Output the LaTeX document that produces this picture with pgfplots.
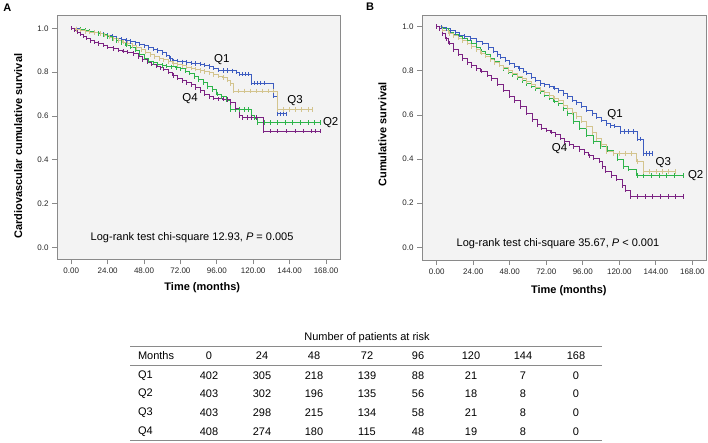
\documentclass[border=0pt]{standalone}
\usepackage{pgfplots}
\pgfplotsset{compat=1.18}
\usepackage{pgfplotstable}
\usepackage{fontspec}
\setmainfont{Liberation Sans}

\definecolor{cQone}{HTML}{3D5CC0}
\definecolor{cQtwo}{HTML}{2DB44A}
\definecolor{cQthree}{HTML}{D3C48E}
\definecolor{cQfour}{HTML}{7B2282}
\definecolor{framec}{HTML}{8A8A8A}
\definecolor{bgc}{HTML}{F3F3F3}

% ---------------- Panel A data ----------------
\pgfplotstableread{
x y
0 1.000
3 0.998
6 0.992
9 0.988
12 0.984
15 0.979
18 0.975
21 0.971
24 0.967
27 0.962
30 0.956
33 0.950
36 0.944
39 0.939
42 0.934
45 0.928
48 0.920
51 0.912
54 0.905
57 0.898
60 0.890
63 0.877
65 0.862
67 0.852
70 0.850
73 0.847
76 0.844
79 0.841
82 0.839
85 0.837
88 0.832
91 0.826
94 0.818
97 0.810
100 0.808
103 0.807
106 0.806
109 0.800
111 0.790
113 0.790
115 0.790
117 0.790
118.5 0.750
121 0.750
123 0.750
125 0.750
127 0.750
133 0.690
136 0.610
138 0.610
140 0.610
142 0.610
}\QoneA

\pgfplotstableread{
x y
0 1.000
3 0.997
6 0.994
9 0.990
12 0.986
15 0.982
18 0.977
21 0.970
24 0.962
27 0.953
30 0.945
33 0.935
36 0.924
39 0.914
42 0.900
45 0.882
48 0.864
51 0.850
54 0.842
57 0.836
60 0.830
63 0.827
66 0.824
69 0.820
72 0.815
75 0.805
78 0.795
81 0.780
84 0.766
87 0.752
90 0.735
93 0.720
96 0.700
99 0.688
102 0.672
105 0.630
108 0.630
111 0.630
114 0.630
117 0.629
119 0.600
121 0.590
123 0.569
127 0.569
131 0.569
136 0.569
141 0.569
146 0.569
151 0.569
156 0.569
160 0.569
164 0.569
}\QtwoA

\pgfplotstableread{
x y
0 1.000
3 0.995
6 0.990
9 0.986
12 0.983
15 0.980
19 0.976
22 0.968
25 0.960
28 0.952
31 0.944
34 0.937
37 0.930
40 0.920
43 0.911
46 0.902
49 0.892
52 0.880
55 0.870
58 0.862
61 0.856
64 0.848
67 0.840
70 0.835
73 0.829
76 0.823
79 0.818
82 0.813
85 0.808
88 0.803
91 0.797
94 0.788
97 0.781
100 0.775
103 0.763
105 0.748
107 0.714
110 0.714
114 0.714
118 0.714
122 0.714
126 0.714
130 0.714
133 0.714
136 0.630
140 0.630
144 0.630
148 0.630
152 0.630
156 0.630
159 0.630
}\QthreeA

\pgfplotstableread{
x y
0 1.000
2 0.992
4 0.982
6 0.974
8 0.965
10 0.955
12.5 0.945
15 0.937
18 0.930
21 0.923
24 0.915
27.7 0.907
31 0.900
34 0.895
37 0.891
41 0.884
44 0.870
47 0.856
50 0.845
53 0.836
56 0.828
59 0.820
61 0.814
64 0.800
67 0.785
70 0.772
73 0.762
76 0.752
79 0.742
82 0.730
85 0.715
88 0.700
91 0.688
94 0.681
97 0.678
100 0.676
103 0.674
105 0.660
108 0.635
111 0.600
113 0.592
116 0.592
119 0.592
122 0.592
126.6 0.530
131 0.530
136 0.530
142 0.530
148 0.530
153 0.530
158 0.530
161 0.530
164 0.530
}\QfourA

% ---------------- Panel B data ----------------
\pgfplotstableread{
x y
0 1.000
3 0.998
6 0.990
9 0.982
12 0.972
15 0.962
18 0.955
22 0.945
26 0.935
30 0.925
34 0.905
37 0.890
40 0.874
42 0.862
45 0.848
48 0.835
51 0.822
54 0.810
57 0.798
59 0.789
62 0.772
65 0.757
68 0.743
71 0.737
74 0.731
77 0.722
80 0.710
83 0.696
86 0.682
89 0.668
92 0.655
95 0.640
98.5 0.622
102 0.605
105 0.590
108 0.577
111.5 0.562
114 0.552
117 0.550
120.5 0.525
123 0.525
126 0.525
129 0.525
132 0.490
134 0.490
136 0.426
138 0.426
140 0.426
142 0.426
}\QoneB

\pgfplotstableread{
x y
0 1.000
4 0.990
8 0.975
11 0.966
14 0.956
17 0.948
20 0.938
23 0.922
26 0.905
29 0.888
32 0.874
35 0.858
38 0.842
41 0.826
44 0.810
47 0.795
50 0.782
53 0.768
56 0.755
59 0.742
62 0.730
65 0.718
68 0.705
71 0.690
74 0.677
77 0.663
80 0.650
83 0.628
86 0.605
89.8 0.570
94 0.540
98.6 0.509
103 0.480
107.4 0.456
112 0.440
116.2 0.426
119 0.400
122.8 0.365
126 0.355
131.5 0.325
136 0.325
141 0.325
146 0.325
151 0.325
156 0.325
162 0.325
}\QtwoB

\pgfplotstableread{
x y
0 1.000
4 0.985
8 0.970
11 0.960
14 0.948
17 0.936
20 0.925
23 0.910
26 0.895
29 0.880
32 0.866
35 0.852
38 0.838
41 0.826
44 0.814
47 0.802
50 0.789
53 0.776
56 0.764
59 0.752
62 0.740
65 0.726
68 0.713
71 0.700
74 0.688
77 0.676
80 0.664
83 0.645
86 0.628
89 0.610
92 0.592
95 0.572
98.6 0.547
102 0.520
105 0.494
108 0.465
111.7 0.433
116 0.426
120 0.426
124 0.426
128 0.426
131.5 0.388
136 0.343
140 0.343
144 0.343
148 0.343
152 0.343
157 0.343
}\QthreeB

\pgfplotstableread{
x y
0 1.000
2 0.990
4 0.968
6 0.945
8 0.925
11 0.895
14 0.875
17 0.855
20 0.838
23 0.823
26 0.810
29 0.798
33 0.780
36 0.764
40 0.740
44 0.712
48 0.685
51 0.665
55 0.638
59 0.608
63 0.578
66 0.555
69 0.540
72 0.532
75 0.522
78 0.510
81 0.495
84 0.480
87 0.468
90 0.457
94 0.443
97 0.428
100 0.415
103 0.405
107 0.390
109 0.365
111 0.345
115 0.325
118 0.310
122 0.280
124 0.260
127 0.230
132 0.230
137 0.230
142 0.230
147 0.230
152 0.230
157 0.230
162 0.230
}\QfourB

\pgfplotsset{
  kmaxis/.style={
    scale only axis,
    axis background/.style={fill=bgc},
    axis line style={draw=framec, line width=0.7pt},
    tick align=outside,
    tick pos=left,
    major tick length=5pt,
    every tick/.style={draw=framec, line width=0.7pt},
    xtick={0,24,48,72,96,120,144,168},
    xticklabels={0.00,24.00,48.00,72.00,96.00,120.00,144.00,168.00},
    ytick={0,0.2,0.4,0.6,0.8,1.0},
    yticklabels={0.0,0.2,0.4,0.6,0.8,1.0},
    tick label style={font=\fontsize{8}{9}\selectfont, text=black!85},
    label style={font=\fontsize{11}{13}\selectfont\bfseries},
  },
  km/.style={const plot, line width=0.8pt, mark=|, mark size=2.2pt,
    mark options={line width=0.6pt, solid}},
}

\begin{document}
\begin{tikzpicture}[x=1pt,y=1pt]
\useasboundingbox (0,0) rectangle (708,442);

% ---------------- Panel A ----------------
\begin{axis}[kmaxis,
  at={(57pt,182.7pt)}, anchor=south west,
  width=283.7pt, height=243.6pt,
  xmin=-9.4, xmax=177.7, ymin=-0.0548, ymax=1.0575,
  xlabel={Time (months)},
  xlabel style={at={(axis description cs:0.512,0)}, anchor=center, yshift=-28pt},
  ylabel={Cardiovascular cumulative survival},
  ylabel style={at={(axis description cs:-0.1364,0.465)}, anchor=center},
]
\addplot[km, cQone] table {\QoneA};
\addplot[km, cQtwo] table {\QtwoA};
\addplot[km, cQthree] table {\QthreeA};
\addplot[km, cQfour] table {\QfourA};
\node[font=\fontsize{11.5}{13}\selectfont] at (axis cs:99.3,0.855) {Q1};
\node[font=\fontsize{11.5}{13}\selectfont] at (axis cs:147.6,0.672) {Q3};
\node[font=\fontsize{11.5}{13}\selectfont] at (axis cs:78.4,0.677) {Q4};
\node[font=\fontsize{11.5}{13}\selectfont] at (axis cs:171.1,0.571) {Q2};
\node[font=\fontsize{11}{13}\selectfont] at (axis cs:79.7,0.044) {Log-rank test chi-square 12.93, \textit{P} = 0.005};
\end{axis}

% ---------------- Panel B ----------------
\begin{axis}[kmaxis,
  at={(422pt,182pt)}, anchor=south west,
  width=284.5pt, height=245pt,
  xmin=-9.66, xmax=177.3, ymin=-0.0576, ymax=1.053,
  xlabel={Time (months)},
  xlabel style={at={(axis description cs:0.516,0)}, anchor=center, yshift=-30.7pt},
  ylabel={Cumulative survival},
  ylabel style={at={(axis description cs:-0.1395,0.512)}, anchor=center},
]
\addplot[km, cQone] table {\QoneB};
\addplot[km, cQtwo] table {\QtwoB};
\addplot[km, cQthree] table {\QthreeB};
\addplot[km, cQfour] table {\QfourB};
\node[font=\fontsize{11.5}{13}\selectfont] at (axis cs:117.2,0.600) {Q1};
\node[font=\fontsize{11.5}{13}\selectfont] at (axis cs:148.9,0.385) {Q3};
\node[font=\fontsize{11.5}{13}\selectfont] at (axis cs:80.8,0.446) {Q4};
\node[font=\fontsize{11.5}{13}\selectfont] at (axis cs:170.2,0.325) {Q2};
\node[font=\fontsize{11}{13}\selectfont] at (axis cs:79.7,0.018) {Log-rank test chi-square 35.67, \textit{P} < 0.001};
\end{axis}

% panel letters
\node[font=\fontsize{11}{13}\selectfont\bfseries] at (7.3,434.7) {A};
\node[font=\fontsize{11}{13}\selectfont\bfseries] at (370,435.3) {B};

% ---------------- At-risk table ----------------
\begin{scope}[font=\fontsize{11}{13}\selectfont]
\node at (367,104.7) {Number of patients at risk};
\draw[framec, line width=0.8pt] (130,95.3) -- (602,95.3);
\draw[framec, line width=0.8pt] (130,76.3) -- (602,76.3);
\draw[framec, line width=0.8pt] (130,1.3) -- (602,1.3);
\node[anchor=west] at (134.5,86) {Months};
\node[anchor=west] at (134.5,66.5) {Q1};
\node[anchor=west] at (134.5,48) {Q2};
\node[anchor=west] at (134.5,29.3) {Q3};
\node[anchor=west] at (134.5,10.5) {Q4};
\foreach \cx/\a/\b/\c/\d/\e in {
  209/0/402/403/403/408,
  262/24/305/302/298/274,
  314/48/218/196/215/180,
  367/72/139/135/134/115,
  418/96/88/56/58/48,
  471/120/21/18/21/19,
  523/144/7/8/8/8,
  576/168/0/0/0/0}{
  \node at (\cx,86) {\a};
  \node at (\cx,66.5) {\b};
  \node at (\cx,48) {\c};
  \node at (\cx,29.3) {\d};
  \node at (\cx,10.5) {\e};
}
\end{scope}
\end{tikzpicture}
\end{document}
